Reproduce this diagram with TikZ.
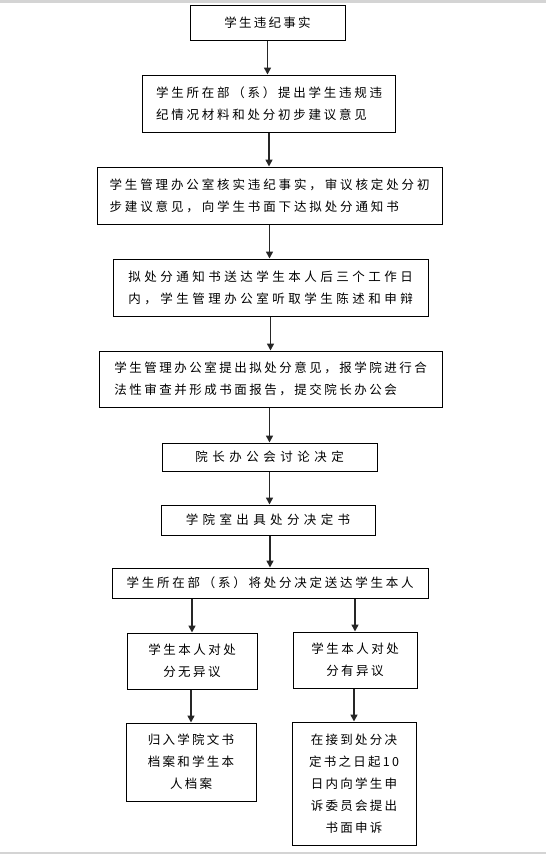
\documentclass[tikz,border=0pt]{standalone}
\usepackage{fontspec}
\newfontfamily\cjk{Noto Sans CJK SC}
\usetikzlibrary{arrows.meta}
\newcommand\cjkfont[1]{\fontsize{12.5}{22}\cjk\addfontfeatures{LetterSpace=#1}}
\definecolor{barGray}{RGB}{212,212,212}
\tikzset{
  box/.style={draw=black, line width=1pt, inner sep=0pt, align=center},
  lbox/.style={draw=black, line width=1pt, inner sep=0pt, align=left},
  ls/.style={font=\cjkfont{#1}},
  flow/.style={line width=1.6pt, draw=black!85, -{Triangle[width=7pt,length=7pt]}}
}
\begin{document}
\begin{tikzpicture}[x=1pt,y=-1pt]
\useasboundingbox (0,0) rectangle (546,854);
\fill[barGray] (0,0) rectangle (546,3);
\fill[barGray] (0,852) rectangle (546,854);

\node[box, ls=18, minimum width=155, minimum height=35] (b1) at (267.5,22.5) {学生违纪事实};
\node[lbox, ls=22, minimum width=253, minimum height=57] (b2) at (269,103.5)
  {学生所在部（系）提出学生违规违\\纪情况材料和处分初步建议意见};
\node[lbox, ls=23, minimum width=345, minimum height=57] (b3) at (269.5,195.5)
  {学生管理办公室核实违纪事实，审议核定处分初\\步建议意见，向学生书面下达拟处分通知书};
\node[lbox, ls=28, minimum width=315, minimum height=57] (b4) at (270.5,287.5)
  {拟处分通知书送达学生本人后三个工作日\\内，学生管理办公室听取学生陈述和申辩};
\node[lbox, ls=20, minimum width=343, minimum height=56] (b5) at (270.5,379)
  {学生管理办公室提出拟处分意见，报学院进行合\\法性审查并形成书面报告，提交院长办公会};
\node[box, ls=36, minimum width=215, minimum height=28] (b6) at (269.5,457) {院长办公会讨论决定};
\node[box, ls=35, minimum width=214, minimum height=30] (b7) at (268,520) {学院室出具处分决定书};
\node[box, ls=22, minimum width=316, minimum height=30] (b8) at (270,583) {学生所在部（系）将处分决定送达学生本人};
\node[box, ls=20, minimum width=130, minimum height=56] (b9) at (192,661) {学生本人对处\\分无异议};
\node[box, ls=20, minimum width=124, minimum height=56] (b10) at (355,660) {学生本人对处\\分有异议};
\node[box, ls=18, minimum width=130, minimum height=78] (b11) at (191,762) {归入学院文书\\档案和学生本\\人档案};
\node[box, ls=18, minimum width=124, minimum height=123] (b12) at (354,783.5)
  {在接到处分决\\定书之日起10\\日内向学生申\\诉委员会提出\\书面申诉};

\draw[flow] (b1.south) -- (b1.south |- b2.north);
\draw[flow] (b2.south) -- (b2.south |- b3.north);
\draw[flow] (b3.south) -- (b3.south |- b4.north);
\draw[flow] (b4.south -| b5.north) -- (b5.north);
\draw[flow] (b5.south -| b6.north) -- (b6.north);
\draw[flow] (b6.south) -- (b6.south |- b7.north);
\draw[flow] (b7.south -| b8.north) -- (b8.north);
\draw[flow] (b9.north |- b8.south) -- (b9.north);
\draw[flow] (b10.north |- b8.south) -- (b10.north);
\draw[flow] (b9.south -| b11.north) -- (b11.north);
\draw[flow] (b10.south -| b12.north) -- (b12.north);
\end{tikzpicture}
\end{document}
